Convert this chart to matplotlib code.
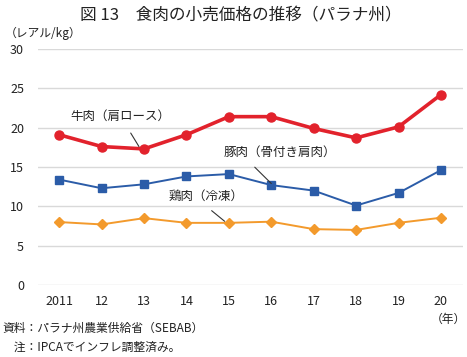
import matplotlib
matplotlib.use('Agg')
import matplotlib.pyplot as plt

plt.rcParams['font.family'] = ['Noto Sans CJK JP', 'DejaVu Sans']

years = ['2011', '12', '13', '14', '15', '16', '17', '18', '19', '20']
beef = [19.1, 17.6, 17.3, 19.1, 21.4, 21.4, 19.9, 18.7, 20.1, 24.2]
pork = [13.4, 12.3, 12.8, 13.8, 14.1, 12.7, 12.0, 10.1, 11.7, 14.6]
chicken = [8.0, 7.7, 8.5, 7.9, 7.9, 8.05, 7.1, 7.0, 7.9, 8.55]
yticks = [0, 5, 10, 15, 20, 25, 30]

fig = plt.figure(figsize=(4.67, 3.57), dpi=100)
ax = fig.add_axes([38/467, 72/357, 425/467, 236/357])

x = list(range(len(years)))
ax.plot(x, beef, color='#e2222c', lw=2.6, marker='o', ms=6.5, zorder=3)
ax.plot(x, pork, color='#2b5ca8', lw=1.4, marker='s', ms=6, zorder=3)
ax.plot(x, chicken, color='#f39a2c', lw=1.4, marker='D', ms=5, zorder=3)

ax.set_xlim(-0.5, 9.52)
ax.set_ylim(0, 30)
ax.set_yticks(yticks)
ax.set_xticks(x)
ax.set_xticklabels(years)
ax.grid(axis='y', color='#d9d9d9', lw=1)
ax.set_axisbelow(True)
for s in ax.spines.values():
    s.set_visible(False)
ax.tick_params(length=0, labelsize=9, colors='#222222')
ax.tick_params(axis='x', pad=7)
ax.tick_params(axis='y', pad=10)

# ラベルと引き出し線
ax.annotate('牛肉（肩ロース）', xy=(1.88, 17.6), xytext=(1.45, 21.4),
            fontsize=9, ha='center', va='center', color='#222222',
            arrowprops=dict(arrowstyle='-', color='#333333', lw=0.8, shrinkA=6, shrinkB=0))
ax.annotate('豚肉（骨付き肩肉）', xy=(5.0, 12.9), xytext=(5.2, 16.9),
            fontsize=9, ha='center', va='center', color='#222222',
            arrowprops=dict(arrowstyle='-', color='#333333', lw=0.8, shrinkA=6, shrinkB=0,
                            relpos=(0.2, 0.0)))
ax.annotate('鶏肉（冷凍）', xy=(3.9, 8.1), xytext=(3.45, 11.3),
            fontsize=9, ha='center', va='center', color='#222222',
            arrowprops=dict(arrowstyle='-', color='#333333', lw=0.8, shrinkA=6, shrinkB=0,
                            relpos=(0.45, 0.0)))

fig.text(0.515, 0.955, '図 13　食肉の小売価格の推移（パラナ州）', fontsize=12,
         ha='center', va='center', color='#222222')
fig.text(0.01, 0.905, '（レアル/kg）', fontsize=8.5, ha='left', va='center', color='#222222')
fig.text(0.997, 0.106, '（年）', fontsize=8.5, ha='right', va='center', color='#222222')
fig.text(0.005, 0.081, '資料：パラナ州農業供給省（SEBAB）', fontsize=8.5, ha='left', va='center', color='#222222')
fig.text(0.005, 0.028, '　注：IPCAでインフレ調整済み。', fontsize=8.5, ha='left', va='center', color='#222222')

fig.savefig('out.png', dpi=100)
